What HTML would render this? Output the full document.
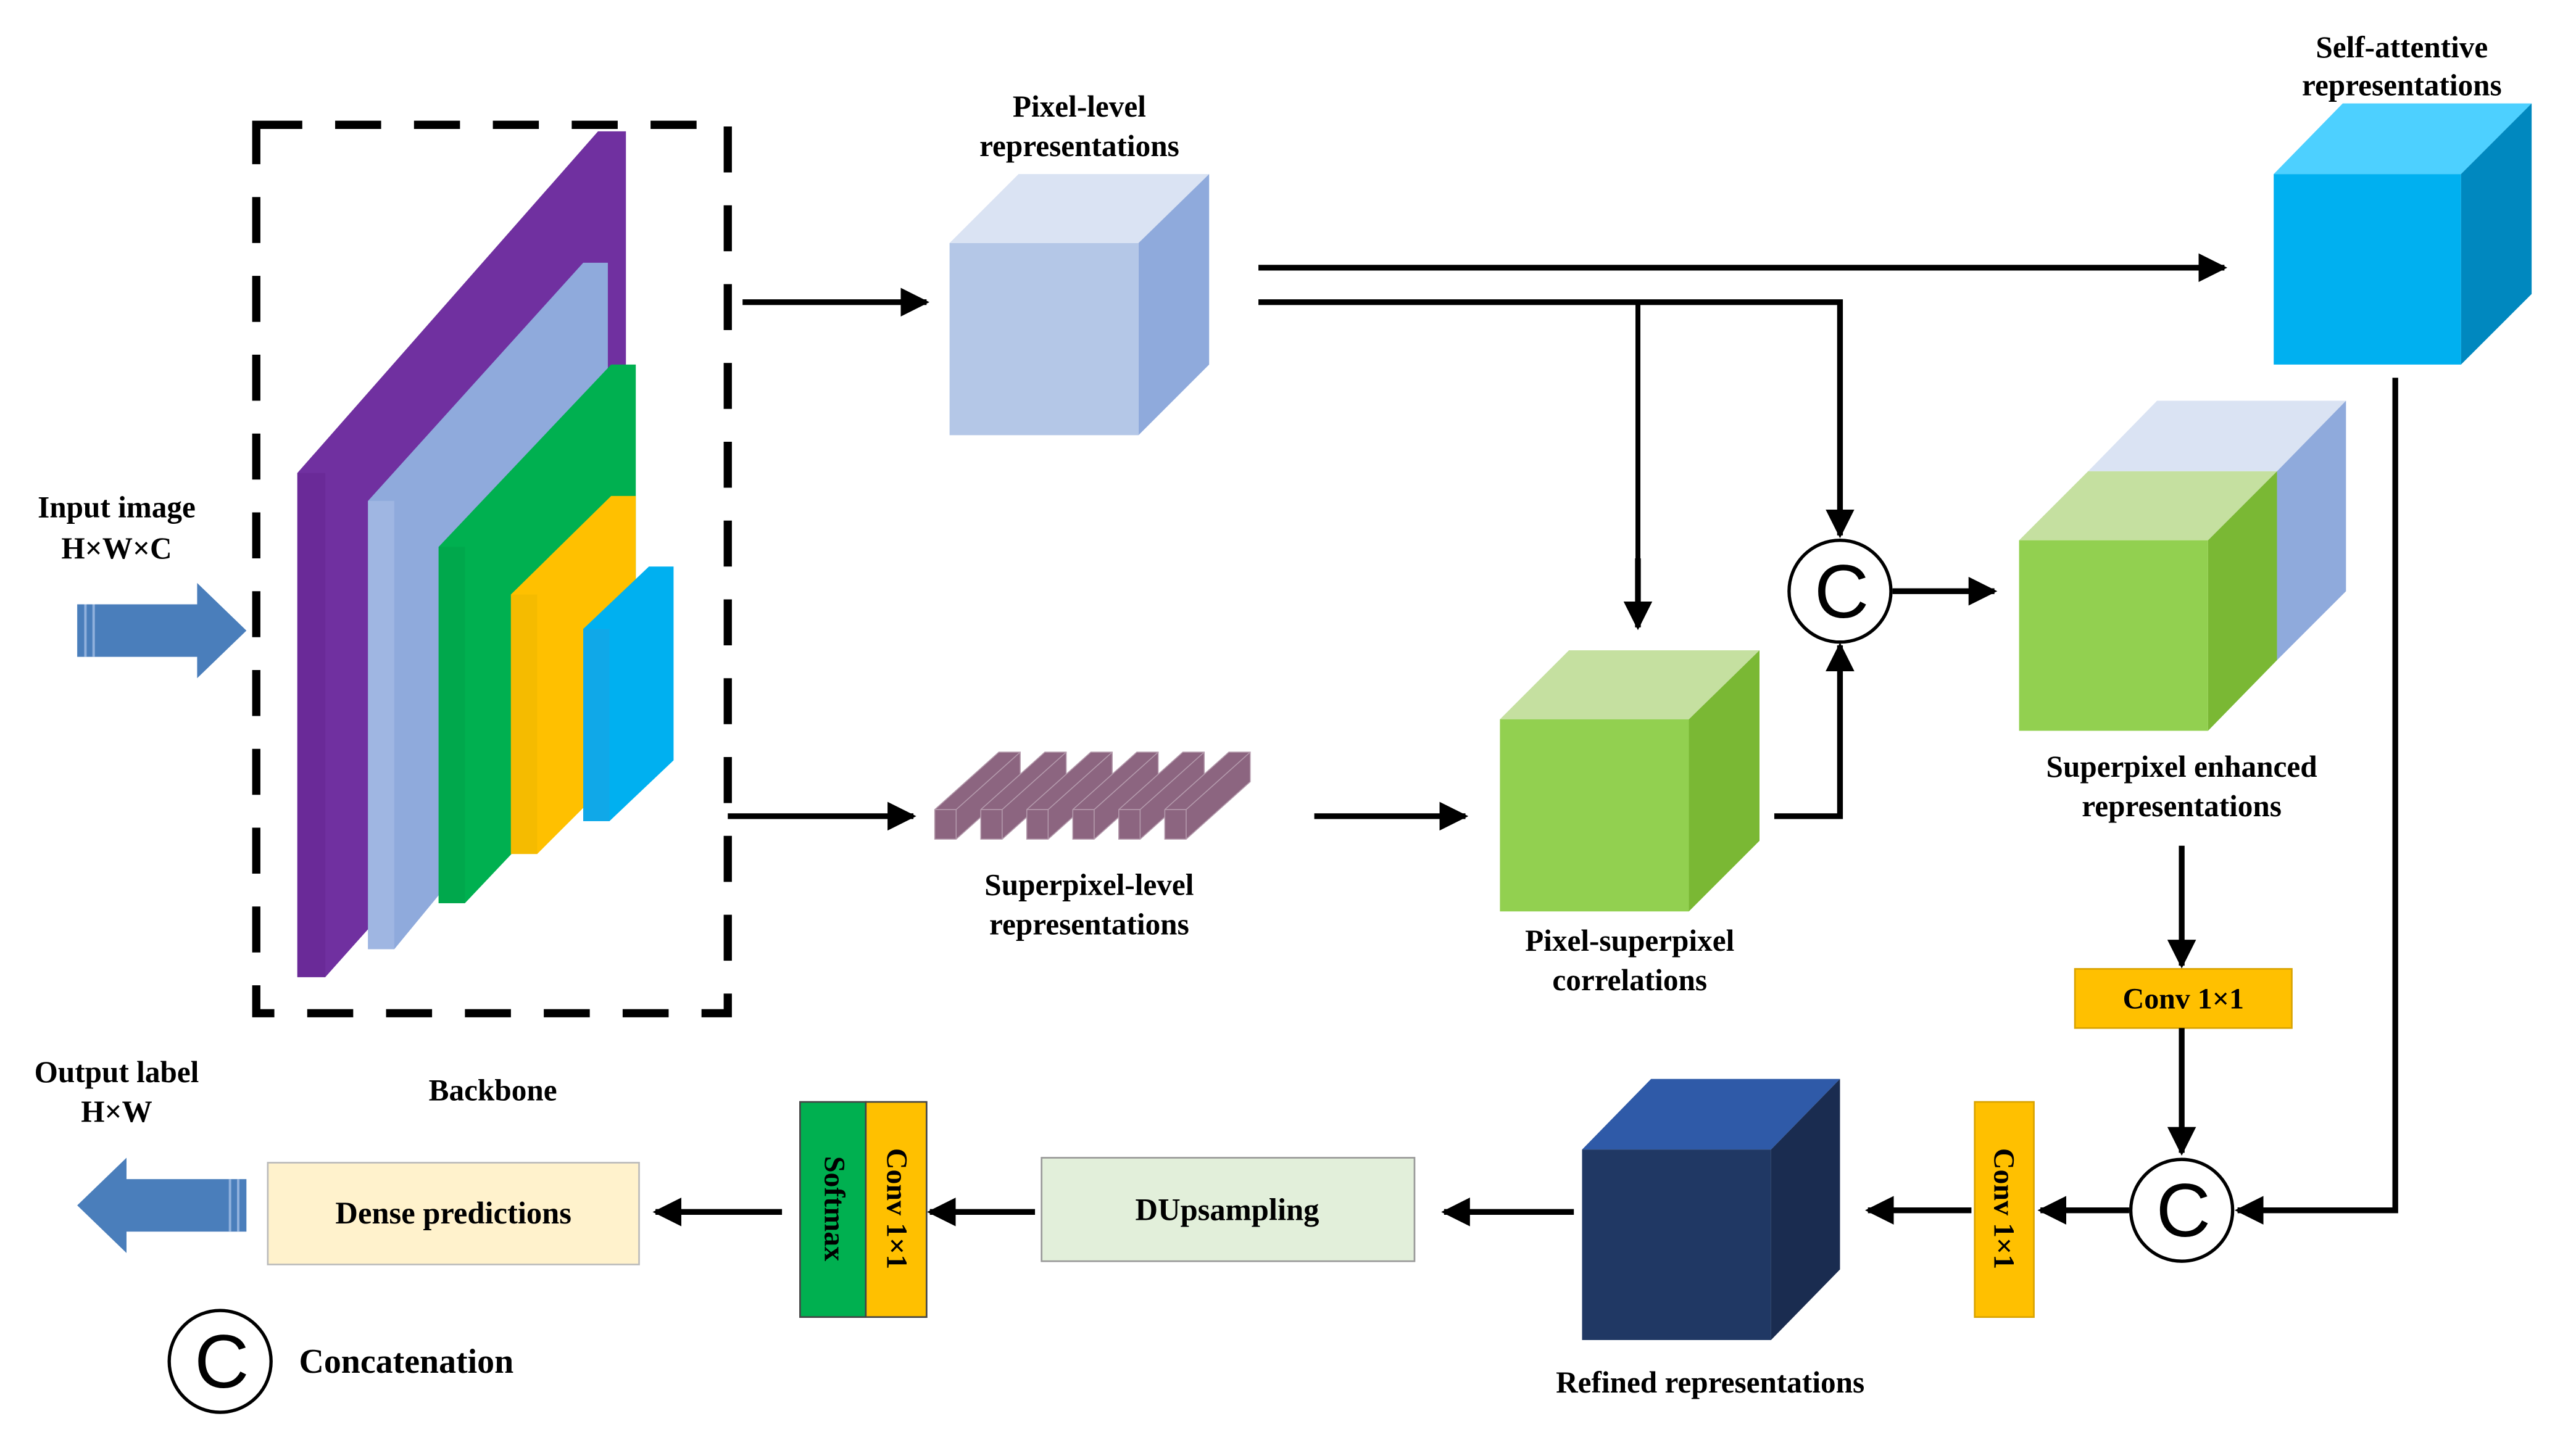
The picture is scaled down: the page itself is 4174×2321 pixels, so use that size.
<!DOCTYPE html>
<html><head><meta charset="utf-8">
<style>
html,body{margin:0;padding:0;background:#fff;}
svg{display:block;}
text{font-family:"Liberation Serif",serif;font-weight:bold;fill:#000;}
</style></head>
<body>
<svg width="4174" height="2321" viewBox="0 0 1568 872" preserveAspectRatio="none" xmlns="http://www.w3.org/2000/svg">
<defs>
<marker id="ah" viewBox="0 0 10 10" refX="9" refY="5" markerWidth="5" markerHeight="5" orient="auto" markerUnits="strokeWidth">
<path d="M0,0 L10,5 L0,10 z" fill="#000"/></marker>
</defs>

<rect x="156" y="76" width="287" height="541" fill="none" stroke="#000" stroke-width="5" stroke-dasharray="28,20"/>

<polygon points="181,288 364,80 381,80 381,390 198,595 181,595" fill="#7030a0"/>
<polygon points="181,288 198,288 198,595 181,595" fill="#6a2a98"/>
<polygon points="224,305 355,160 370,160 370,420 240,578 224,578" fill="#8faadc"/>
<polygon points="224,305 240,305 240,578 224,578" fill="#9fb6e2"/>
<polygon points="267,333 372,222 387,222 387,440 283,550 267,550" fill="#00b050"/>
<polygon points="267,333 283,333 283,550 267,550" fill="#00a84c"/>
<polygon points="311,362 372,302 387,302 387,460 327,520 311,520" fill="#ffc000"/>
<polygon points="311,362 327,362 327,520 311,520" fill="#f5bb00"/>
<polygon points="355,383 395,345 410,345 410,463 371,500 355,500" fill="#00b0f0"/>
<polygon points="355,383 371,383 371,500 355,500" fill="#10a8e8"/>

<polygon points="47,368 120,368 120,355 150,384 120,413 120,400 47,400" fill="#4a7ebb"/>
<line x1="52" y1="368" x2="52" y2="400" stroke="#8fb0dc" stroke-width="1.5"/>
<line x1="57" y1="368" x2="57" y2="400" stroke="#8fb0dc" stroke-width="1.5"/>
<text x="71" y="315" font-size="18.5" text-anchor="middle">Input image</text>
<text x="71" y="340" font-size="18.5" text-anchor="middle">H×W×C</text>

<polygon points="150,718 77,718 77,705 47,734 77,763 77,750 150,750" fill="#4a7ebb"/>
<line x1="140" y1="718" x2="140" y2="750" stroke="#8fb0dc" stroke-width="1.5"/>
<line x1="145" y1="718" x2="145" y2="750" stroke="#8fb0dc" stroke-width="1.5"/>
<text x="71" y="659" font-size="18.5" text-anchor="middle">Output label</text>
<text x="71" y="683" font-size="18.5" text-anchor="middle">H×W</text>
<text x="300" y="670" font-size="18.5" text-anchor="middle">Backbone</text>

<polygon points="578,148 620,106 736,106 693,148" fill="#dae3f3"/>
<polygon points="693,148 736,106 736,222 693,265" fill="#8faadc"/>
<rect x="578" y="148" width="115" height="117" fill="#b4c7e7"/>
<text x="657" y="71" font-size="18.5" text-anchor="middle">Pixel-level</text>
<text x="657" y="95" font-size="18.5" text-anchor="middle">representations</text>

<g fill="#8c6580" stroke="#b49aac" stroke-width="0.6">
<polygon points="569,493 608,458 621,458 621,476 582,511 569,511"/>
<polygon points="597,493 636,458 649,458 649,476 610,511 597,511"/>
<polygon points="625,493 664,458 677,458 677,476 638,511 625,511"/>
<polygon points="653,493 692,458 705,458 705,476 666,511 653,511"/>
<polygon points="681,493 720,458 733,458 733,476 694,511 681,511"/>
<polygon points="709,493 748,458 761,458 761,476 722,511 709,511"/>
</g>
<g stroke="#b49aac" stroke-width="0.6" fill="none">
<path d="M582,493 L582,511 M582,493 L621,458 M569,493 L582,493"/>
<path d="M610,493 L610,511 M610,493 L649,458 M597,493 L610,493"/>
<path d="M638,493 L638,511 M638,493 L677,458 M625,493 L638,493"/>
<path d="M666,493 L666,511 M666,493 L705,458 M653,493 L666,493"/>
<path d="M694,493 L694,511 M694,493 L733,458 M681,493 L694,493"/>
<path d="M722,493 L722,511 M722,493 L761,458 M709,493 L722,493"/>
</g>
<text x="663" y="545" font-size="18.5" text-anchor="middle">Superpixel-level</text>
<text x="663" y="569" font-size="18.5" text-anchor="middle">representations</text>

<polygon points="913,438 955,396 1071,396 1028,438" fill="#c5e0a0"/>
<polygon points="1028,438 1071,396 1071,512 1028,555" fill="#7ab834"/>
<rect x="913" y="438" width="115" height="117" fill="#92d050"/>
<text x="992" y="579" font-size="18.5" text-anchor="middle">Pixel-superpixel</text>
<text x="992" y="603" font-size="18.5" text-anchor="middle">correlations</text>

<polygon points="1384,106 1426,63 1541,63 1498,106" fill="#4dd0ff"/>
<polygon points="1498,106 1541,63 1541,179 1498,222" fill="#0088bf"/>
<rect x="1384" y="106" width="114" height="116" fill="#00b0f0"/>
<text x="1462" y="35" font-size="18.5" text-anchor="middle">Self-attentive</text>
<text x="1462" y="58" font-size="18.5" text-anchor="middle">representations</text>

<polygon points="1271,287 1313,244 1428,244 1386,287" fill="#dae3f3"/>
<polygon points="1386,287 1428,244 1428,360 1386,402" fill="#8faadc"/>
<polygon points="1229,329 1271,287 1386,287 1344,329" fill="#c5e0a0"/>
<polygon points="1344,329 1386,287 1386,402 1344,445" fill="#7ab834"/>
<rect x="1229" y="329" width="115" height="116" fill="#92d050"/>
<text x="1328" y="473" font-size="18.5" text-anchor="middle">Superpixel enhanced</text>
<text x="1328" y="497" font-size="18.5" text-anchor="middle">representations</text>

<polygon points="963,700 1005,657 1120,657 1078,700" fill="#2f5aa8"/>
<polygon points="1078,700 1120,657 1120,773 1078,816" fill="#1a2c50"/>
<rect x="963" y="700" width="115" height="116" fill="#203864"/>
<text x="1041" y="848" font-size="18.5" text-anchor="middle">Refined representations</text>

<rect x="1263" y="590" width="132" height="36" fill="#ffc000" stroke="#d9a300" stroke-width="1"/>
<text x="1329" y="614" font-size="18" text-anchor="middle">Conv 1×1</text>
<rect x="1202" y="671" width="36" height="131" fill="#ffc000" stroke="#d9a300" stroke-width="1"/>
<text transform="translate(1214,736) rotate(90)" font-size="18" text-anchor="middle">Conv 1×1</text>
<rect x="634" y="705" width="227" height="63" fill="#e2efda" stroke="#999" stroke-width="1"/>
<text x="747" y="743" font-size="19" text-anchor="middle">DUpsampling</text>
<rect x="487" y="671" width="40" height="131" fill="#00b050" stroke="#444" stroke-width="1"/>
<rect x="527" y="671" width="37" height="131" fill="#ffc000" stroke="#444" stroke-width="1"/>
<text transform="translate(502,736) rotate(90)" font-size="18" text-anchor="middle">Softmax</text>
<text transform="translate(540,736) rotate(90)" font-size="18" text-anchor="middle">Conv 1×1</text>
<rect x="163" y="708" width="226" height="62" fill="#fff2cc" stroke="#bbb" stroke-width="1"/>
<text x="276" y="745" font-size="19" text-anchor="middle">Dense predictions</text>

<g stroke="#000" stroke-width="3.5" fill="none">
<line x1="452" y1="184" x2="564" y2="184" marker-end="url(#ah)"/>
<line x1="443" y1="497" x2="556" y2="497" marker-end="url(#ah)"/>
<line x1="800" y1="497" x2="892" y2="497" marker-end="url(#ah)"/>
<line x1="766" y1="163" x2="1354" y2="163" marker-end="url(#ah)"/>
<polyline points="766,184 1120,184 1120,326" marker-end="url(#ah)"/>
<line x1="997" y1="184" x2="997" y2="382" stroke-width="3"/>
<line x1="997" y1="340" x2="997" y2="382" marker-end="url(#ah)"/>
<polyline points="1080,497 1120,497 1120,393" marker-end="url(#ah)"/>
<line x1="1152" y1="360" x2="1214" y2="360" marker-end="url(#ah)"/>
<line x1="1328" y1="515" x2="1328" y2="588" marker-end="url(#ah)"/>
<line x1="1328" y1="626" x2="1328" y2="702" marker-end="url(#ah)"/>
<polyline points="1458,230 1458,737 1362,737" marker-end="url(#ah)"/>
<line x1="1296" y1="737" x2="1242" y2="737" marker-end="url(#ah)"/>
<line x1="1200" y1="737" x2="1137" y2="737" marker-end="url(#ah)"/>
<line x1="958" y1="738" x2="879" y2="738" marker-end="url(#ah)"/>
<line x1="630" y1="738" x2="566" y2="738" marker-end="url(#ah)"/>
<line x1="476" y1="738" x2="399" y2="738" marker-end="url(#ah)"/>
</g>

<g fill="#fff" stroke="#000" stroke-width="2">
<circle cx="1120" cy="360" r="31"/>
<circle cx="1328" cy="737" r="31"/>
<circle cx="134" cy="829" r="31"/>
</g>
<g font-size="46" text-anchor="middle">
<text x="1121" y="376" style="font-family:'Liberation Sans',sans-serif;font-weight:normal">C</text>
<text x="1329" y="753" style="font-family:'Liberation Sans',sans-serif;font-weight:normal">C</text>
<text x="135" y="845" style="font-family:'Liberation Sans',sans-serif;font-weight:normal">C</text>
</g>
<text x="182" y="836" font-size="21">Concatenation</text>
</svg>
</body></html>
